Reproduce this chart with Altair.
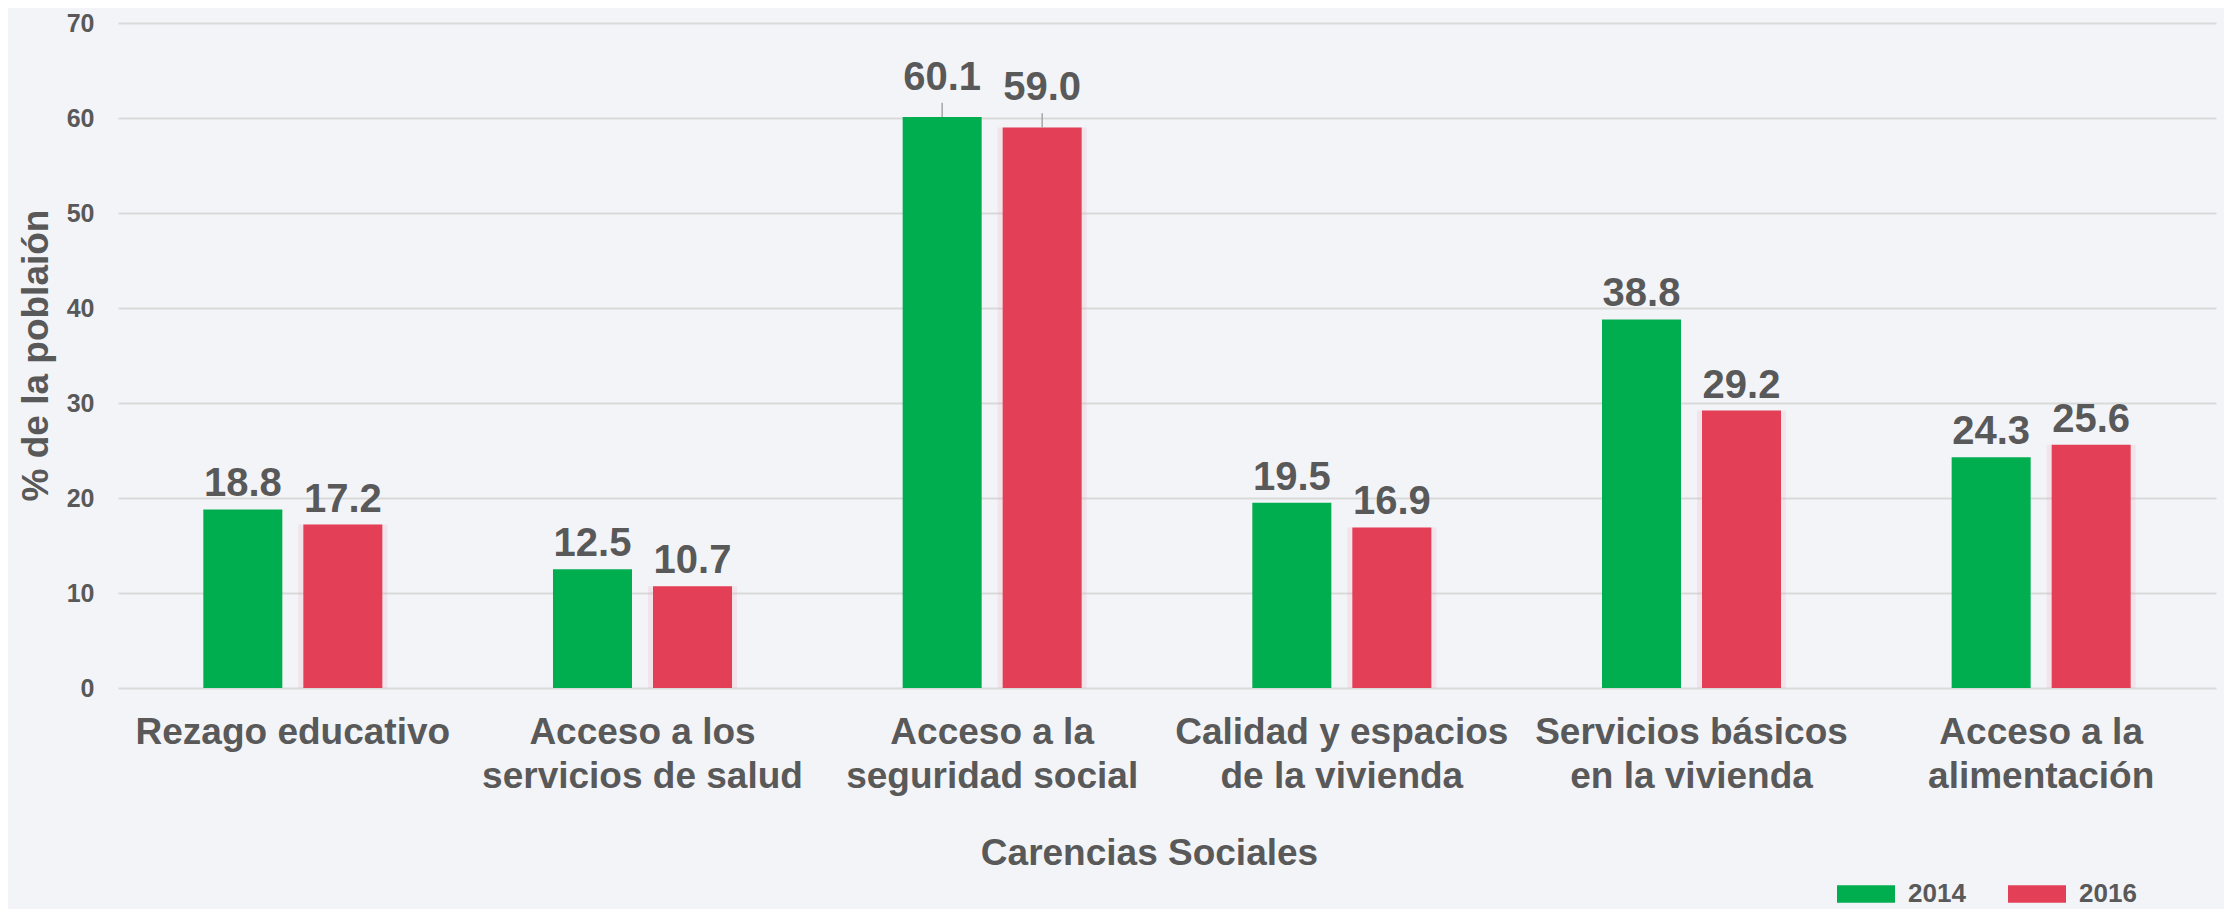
import altair as alt
import pandas as pd

categories = [
    "Rezago educativo",
    "Acceso a los\nservicios de salud",
    "Acceso a la\nseguridad social",
    "Calidad y espacios\nde la vivienda",
    "Servicios básicos\nen la vivienda",
    "Acceso a la\nalimentación",
]
years = ["2014", "2016"]
values_2014 = [18.8, 12.5, 60.1, 19.5, 38.8, 24.3]
values_2016 = [17.2, 10.7, 59.0, 16.9, 29.2, 25.6]
colors = ["#00AE50", "#E34058"]

rows = []
for c, v in zip(categories, values_2014):
    rows.append({"cat": c, "year": "2014", "value": v})
for c, v in zip(categories, values_2016):
    rows.append({"cat": c, "year": "2016", "value": v})
df = pd.DataFrame(rows)

FONT = "Liberation Sans"
TXT = "#595959"

x_enc = alt.X(
    "cat:N",
    sort=categories,
    scale=alt.Scale(paddingInner=0.488, paddingOuter=0.244),
    axis=alt.Axis(
        title="Carencias Sociales",
        labelAngle=0,
        labelExpr="split(datum.label, '\\n')",
        labelFontSize=37,
        labelLineHeight=44,
        labelPadding=26,
        labelLimit=0,
        labelFont=FONT,
        labelFontWeight="bold",
        labelColor=TXT,
        ticks=False,
        domain=False,
        titleFontSize=37,
        titleFont=FONT,
        titleFontWeight="bold",
        titleColor=TXT,
        titleX=1031,
        titleY=176,
        titleAlign="center",
        titleBaseline="alphabetic",
    ),
)
xo_enc = alt.XOffset("year:N", sort=years, scale=alt.Scale(paddingInner=0.21, paddingOuter=0))
y_scale = alt.Scale(domain=[0, 70], nice=False)
y_enc = alt.Y(
    "value:Q",
    scale=y_scale,
    axis=alt.Axis(
        title="% de la poblaión",
        values=[0, 10, 20, 30, 40, 50, 60, 70],
        grid=True,
        gridColor="#D9D9D9",
        gridWidth=2,
        domain=False,
        ticks=False,
        labelFontSize=25,
        labelFont=FONT,
        labelFontWeight="bold",
        labelColor=TXT,
        labelPadding=24,
        titleFontSize=37,
        titleFont=FONT,
        titleFontWeight="bold",
        titleColor=TXT,
        titleAngle=270,
        titleX=-71,
        titleY=332,
        titleAlign="center",
        titleBaseline="alphabetic",
    ),
)

base = alt.Chart(df)

glow = base.transform_filter("datum.year == '2016'").mark_bar(
    size=89, color="#E9A7B5", opacity=0.2
).encode(x=x_enc, xOffset=xo_enc, y=alt.Y("value:Q", scale=y_scale))

bars = base.mark_bar().encode(
    x=x_enc,
    xOffset=xo_enc,
    y=y_enc,
    color=alt.Color(
        "year:N",
        scale=alt.Scale(domain=years, range=colors),
        legend=alt.Legend(
            title=None,
            orient="none",
            legendX=1719,
            legendY=842,
            direction="horizontal",
            symbolType="M-1,-0.3L1,-0.3L1,0.3L-1,0.3Z",
            symbolSize=3364,
            symbolStrokeWidth=0,
            symbolOpacity=1,
            labelFontSize=26,
            labelFont=FONT,
            labelFontWeight="bold",
            labelColor=TXT,
            labelOffset=13,
            columnPadding=42,
            padding=0,
        ),
    ),
)

with_pos = base.transform_calculate(
    lift="datum.value > 50 ? 1.5 : 0",
    label_y="datum.value + datum.lift",
)

leaders = with_pos.transform_filter("datum.lift > 0").mark_rule(
    color="#A6A6A6", strokeWidth=1.5
).encode(
    x=alt.X("cat:N", sort=categories),
    xOffset=alt.XOffset("year:N", sort=years),
    y=alt.Y("value:Q", scale=y_scale),
    y2="label_y:Q",
)

labels = with_pos.mark_text(
    fontSize=40, font=FONT, fontWeight="bold", color=TXT, dy=-13, baseline="alphabetic"
).encode(
    x=alt.X("cat:N", sort=categories),
    xOffset=alt.XOffset("year:N", sort=years),
    y=alt.Y("label_y:Q", scale=y_scale),
    text=alt.Text("value:Q", format=".1f"),
)

chart = (
    alt.layer(glow, bars, leaders, labels)
    .properties(
        width=2098,
        height=665,
        autosize=alt.AutoSizeParams(type="none"),
        padding={"left": 110, "top": 15, "right": 8, "bottom": 221},
        background="#F3F4F8",
    )
    .configure_view(stroke=None)
)

chart.save("out.html", embed_options={"renderer": "svg", "actions": False})
